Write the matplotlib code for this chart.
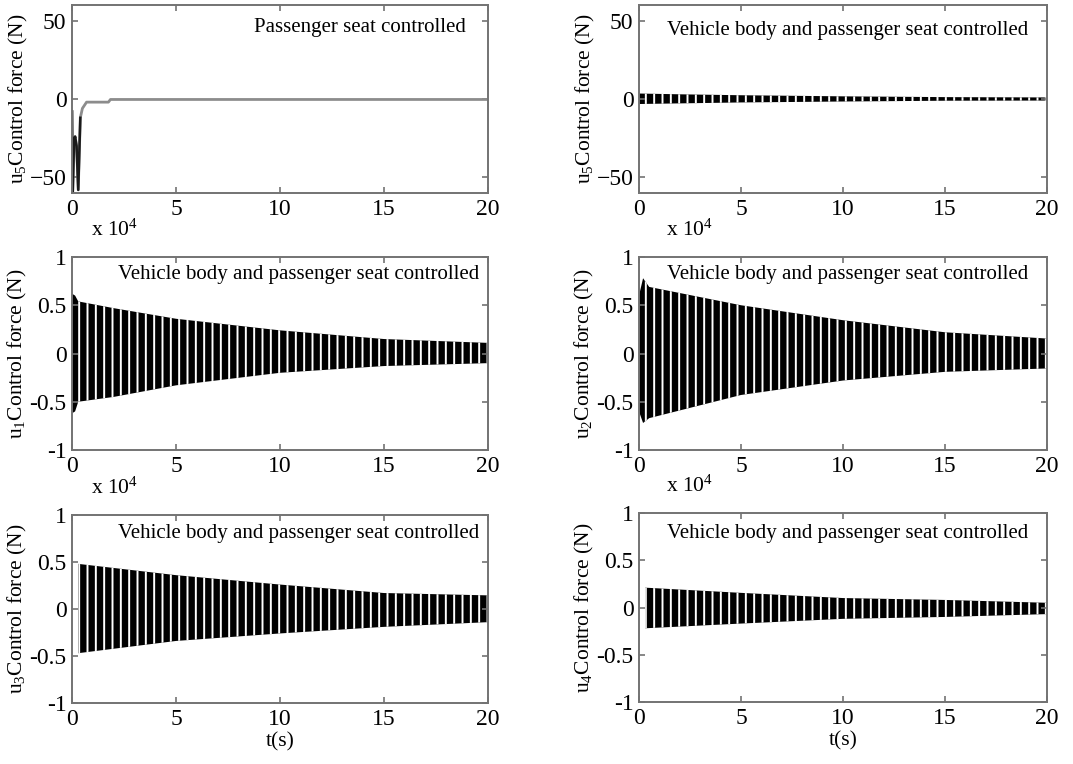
import numpy as np
import matplotlib
matplotlib.use("Agg")
import matplotlib.pyplot as plt

plt.rcParams.update({
    "font.family": ["Liberation Serif", "DejaVu Serif"],
    "font.size": 15.5,
    "mathtext.fontset": "custom",
    "mathtext.rm": "Liberation Serif",
    "mathtext.default": "regular",
    "hatch.linewidth": 1.4,
    "axes.edgecolor": "0.45",
    "axes.linewidth": 1.4,
    "xtick.color": "0.45",
    "ytick.color": "0.45",
    "xtick.labelcolor": "black",
    "ytick.labelcolor": "black",
    "xtick.labelsize": 17,
    "ytick.labelsize": 17,
})

# passenger seat only: u5 in N
t_seat = [0.0, 0.03, 0.1, 0.15, 0.22, 0.3, 0.4, 0.5, 0.7, 1.75, 1.85, 20.0]
u5_seat = [-8.0, -62.0, -26.0, -24.0, -30.0, -58.0, -12.0, -6.0, -2.0, -2.0, -0.3, -0.3]
n_dark = 7  # first points of the transient look darker in the original

# vehicle body + seat: u5 band (N), upper / lower envelope
t_u5 = [0.0, 2.0, 5.0, 10.0, 15.0, 20.0]
u5_hi = [3.5, 3.0, 2.4, 1.7, 1.2, 1.0]
u5_lo = [-3.2, -2.8, -2.2, -1.6, -1.1, -1.0]

# u1..u4 envelopes (x 10^4 N)
t_u1 = [0.0, 0.15, 0.3, 2.0, 5.0, 10.0, 15.0, 20.0]
u1_hi = [0.62, 0.60, 0.54, 0.47, 0.36, 0.24, 0.15, 0.11]
u1_lo = [-0.62, -0.60, -0.50, -0.45, -0.33, -0.20, -0.13, -0.10]

t_u2 = [0.0, 0.2, 0.5, 5.0, 10.0, 15.0, 20.0]
u2_hi = [0.60, 0.78, 0.69, 0.50, 0.345, 0.22, 0.155]
u2_lo = [-0.60, -0.72, -0.67, -0.43, -0.28, -0.19, -0.155]

t_u3 = [0.3, 5.0, 10.0, 15.0, 20.0]
u3_hi = [0.48, 0.36, 0.26, 0.17, 0.145]
u3_lo = [-0.47, -0.34, -0.26, -0.19, -0.14]

t_u4 = [0.3, 5.0, 10.0, 15.0, 20.0]
u4_hi = [0.21, 0.155, 0.10, 0.08, 0.05]
u4_lo = [-0.22, -0.17, -0.12, -0.10, -0.07]

title_seat = "Passenger seat controlled"
title_both = "Vehicle body and passenger seat controlled"

fig = plt.figure(figsize=(10.73, 7.64), dpi=100)
W, H = 1073.0, 764.0


def make_ax(left, top, right, bottom):
    return fig.add_axes([left / W, 1 - bottom / H, (right - left) / W, (bottom - top) / H])


axes = {
    "tl": make_ax(72, 5, 488, 193),
    "tr": make_ax(639, 5, 1047, 193),
    "ml": make_ax(72, 257, 488, 450),
    "mr": make_ax(639, 257, 1047, 450),
    "bl": make_ax(72, 515, 488, 703),
    "br": make_ax(639, 513, 1047, 702),
}


def band(ax, t, hi, lo):
    ax.fill_between(t, lo, hi, facecolor="black", edgecolor="white",
                    hatch="||", linewidth=0)


ax = axes["tl"]
ax.plot(t_seat, u5_seat, color="0.55", lw=2)
ax.plot(t_seat[:n_dark], u5_seat[:n_dark], color="0.1", lw=1.8)
band(axes["tr"], t_u5, u5_hi, u5_lo)
band(axes["ml"], t_u1, u1_hi, u1_lo)
band(axes["mr"], t_u2, u2_hi, u2_lo)
band(axes["bl"], t_u3, u3_hi, u3_lo)
band(axes["br"], t_u4, u4_hi, u4_lo)

ylabels = {"tl": "5", "tr": "5", "ml": "1", "mr": "2", "bl": "3", "br": "4"}
for key, ax in axes.items():
    ax.set_xlim(0, 20)
    ax.set_xticks([0, 5, 10, 15, 20])
    if key in ("tl", "tr"):
        ax.set_ylim(-60, 60)
        ax.set_yticks([-50, 0, 50])
    else:
        ax.set_ylim(-1, 1)
        ax.set_yticks([-1, -0.5, 0, 0.5, 1])
        ax.set_yticklabels(["-1", "-0.5", "0", "0.5", "1"])
    ax.tick_params(direction="in", top=True, right=True, length=4, width=1.2, pad=4)
    ax.set_ylabel("u$_{%s}$Control force (N)" % ylabels[key], labelpad=0)

axes["tl"].text(0.947, 0.88, title_seat, transform=axes["tl"].transAxes,
                ha="right", va="center", fontsize=15)
for key, x, y in [("tr", 0.953, 0.867), ("ml", 0.978, 0.907), ("mr", 0.953, 0.907),
                  ("bl", 0.978, 0.904), ("br", 0.953, 0.894)]:
    axes[key].text(x, y, title_both, transform=axes[key].transAxes,
                   ha="right", va="center", fontsize=15)

for key, x in [("ml", 0.045), ("mr", 0.065), ("bl", 0.045), ("br", 0.065)]:
    axes[key].text(x, 1.14, "x 10$^4$", transform=axes[key].transAxes,
                   ha="left", va="center", fontsize=15.5)

axes["bl"].set_xlabel("t(s)", labelpad=2)
axes["br"].set_xlabel("t(s)", labelpad=2)

fig.savefig("out.png", dpi=100)
